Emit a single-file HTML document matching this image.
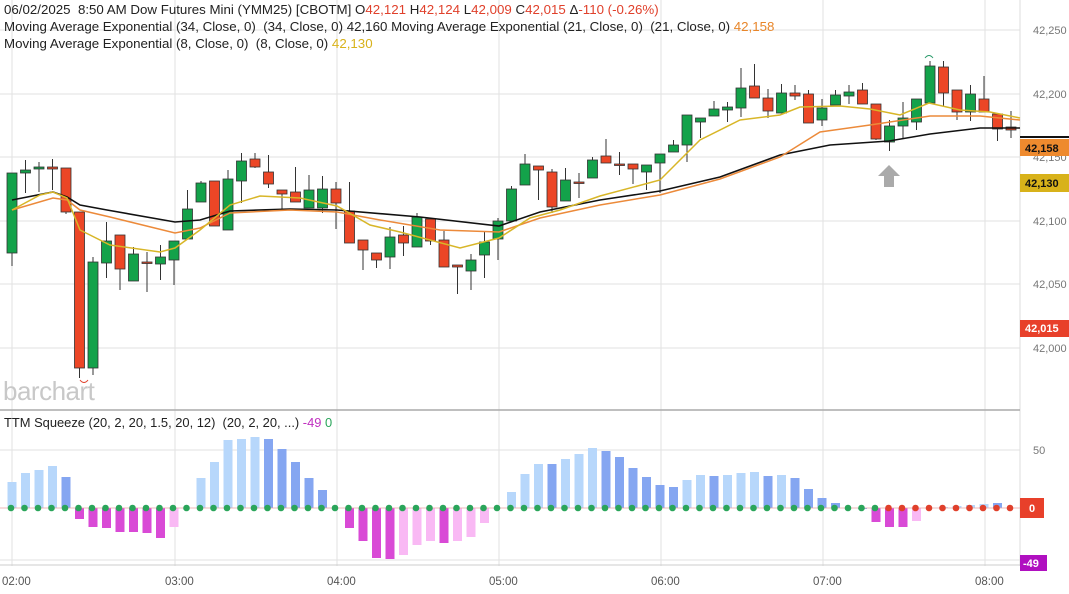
<!DOCTYPE html>
<html><head><meta charset="utf-8"><style>
html,body{margin:0;padding:0;background:#fff;width:1069px;height:594px;overflow:hidden;font-family:"Liberation Sans",sans-serif}
svg{position:absolute;left:0;top:0}
.hd{position:absolute;left:4px;font-size:13.3px;color:#222;white-space:nowrap}
.r{color:#e0402b}.y{color:#d8b21a}
</style></head><body>
<svg id="s" width="1069" height="594" xmlns="http://www.w3.org/2000/svg"></svg>
<div class="hd" style="top:2px">06/02/2025&nbsp; 8:50 AM Dow Futures Mini (YMM25) [CBOTM] O<span class="r">42,121</span> H<span class="r">42,124</span> L<span class="r">42,009</span> C<span class="r">42,015</span> Δ<span class="r">-110 (-0.26%)</span></div>
<div class="hd" style="top:19px">Moving Average Exponential (34, Close, 0)&nbsp; (34, Close, 0) 42,160 Moving Average Exponential (21, Close, 0)&nbsp; (21, Close, 0) <span style="color:#e8862a">42,158</span></div>
<div class="hd" style="top:36px">Moving Average Exponential (8, Close, 0)&nbsp; (8, Close, 0) <span class="y">42,130</span></div>
<div class="hd" style="top:415px;font-size:12.9px">TTM Squeeze (20, 2, 20, 1.5, 20, 12)&nbsp; (20, 2, 20, ...) <span style="color:#c030c0">-49</span> <span style="color:#2aa55a">0</span></div>
<div style="position:absolute;left:3px;top:376px;font-size:26px;color:#c8c8c8;letter-spacing:-0.5px">barchart</div>
<script>
const s=document.getElementById('s');let h='';
const vx=[12,175,337,499,661,823,985],tl=['02:00','03:00','04:00','05:00','06:00','07:00','08:00'];
vx.forEach((x,i)=>{h+=`<line x1="${x}" y1="0" x2="${x}" y2="566" stroke="#e2e2e2"/>`;h+=`<text x="${x-10}" y="585" font-size="11.5" fill="#555">${tl[i]}</text>`});
[[30,'42,250'],[94,'42,200'],[157,'42,150'],[221,'42,100'],[284,'42,050'],[348,'42,000']].forEach(([y,t])=>{h+=`<line x1="0" y1="${y}" x2="1020" y2="${y}" stroke="#e2e2e2"/><text x="1033" y="${y+4}" font-size="11" fill="#777">${t}</text>`});
h+=`<line x1="0" y1="450" x2="1020" y2="450" stroke="#e2e2e2"/><line x1="0" y1="560" x2="1020" y2="560" stroke="#e2e2e2"/><text x="1033" y="454" font-size="11" fill="#777">50</text>`;
h+=`<line x1="1020" y1="0" x2="1020" y2="566" stroke="#ddd"/><line x1="0" y1="410" x2="1020" y2="410" stroke="#aaa" stroke-width="1.5"/><line x1="0" y1="565" x2="1020" y2="565" stroke="#ccc"/>`;
const C=[[253,173,173,266],[173,170,160,193],[169,167,162,192],[167,169,159,190],[168,212,168,214],[212,368,212,378],[368,262,257,375],[263,241,222,278],[235,269,235,290],[281,254,247,281],[262,262,252,292],[264,257,245,280],[260,241,241,285],[239,209,190,239],[202,183,181,202],[181,226,181,226],[230,179,170,230],[181,161,153,203],[159,167,153,168],[172,184,155,188],[190,194,190,210],[192,202,167,202],[208,190,175,208],[208,189,176,213],[189,203,182,229],[211,243,182,243],[240,250,240,270],[253,260,253,268],[257,237,227,269],[235,243,226,256],[247,217,213,247],[219,241,219,245],[240,267,231,267],[265,267,265,294],[271,260,254,290],[255,242,232,278],[239,221,218,260],[221,189,186,221],[185,164,154,185],[166,170,166,200],[172,207,169,213],[201,180,168,201],[182,182,173,198],[178,160,157,178],[156,163,139,163],[164,164,152,175],[164,169,164,184],[172,165,165,190],[163,154,154,193],[152,145,140,152],[145,115,115,162],[122,118,118,138],[116,109,101,116],[110,107,102,122],[108,88,68,117],[86,98,64,98],[98,111,89,118],[113,93,84,113],[93,96,85,100],[94,123,90,123],[120,108,99,126],[105,95,90,105],[96,92,85,104],[90,104,83,104],[104,139,104,140],[142,126,120,151],[126,118,102,138],[122,99,99,130],[103,66,61,103],[67,93,61,106],[90,112,90,120],[112,94,85,121],[99,112,76,112],[114,129,114,141],[127,130,111,138]];
C.forEach(([o,c,hi,lo],i)=>{const x=12+13.5*i;const up=c<o;const col=up?'#13a24a':'#ec4626';const t=Math.min(o,c),b=Math.max(o,c);
h+=`<line x1="${x}" y1="${hi}" x2="${x}" y2="${lo}" stroke="#333"/><rect x="${x-5}" y="${t}" width="10" height="${Math.max(b-t,1.5)}" fill="${col}" stroke="#333" stroke-width="0.8"/>`});
const pl=(p,c,w)=>{h+=`<polyline fill="none" stroke="${c}" stroke-width="${w}" points="${p}"/>`};
pl('12,200 53,192 67,197 80,205 107,210 175,222 200,220 230,211 290,209 337,210 420,217 499,226 540,212 600,200 660,191 720,177 780,155 830,145 889,141 930,134 980,128 1020,128','#111',1.6);
pl('12,210 53,198 67,200 80,210 110,217 175,233 200,228 230,213 290,210 337,212 380,220 440,230 499,232 540,218 600,205 660,195 720,179 780,157 820,132 870,125 930,116 980,116 1020,120','#ec8a3a',1.5);
pl('12,210 40,195 53,192 67,198 80,230 110,245 160,252 175,248 200,230 230,205 260,196 300,198 337,206 370,225 400,232 460,248 499,238 530,218 560,210 600,196 660,180 700,140 740,120 780,115 800,107 840,106 870,109 900,115 929,103 960,110 990,112 1020,118','#d8b628',1.5);
h+=`<path d="M80 380 q4 5 8 0" fill="none" stroke="#e0402b"/><path d="M925 58 q4 -5 8 0" fill="none" stroke="#2a9a6a"/>`;
h+=`<polygon points="889,165 900,176 894,176 894,187 884,187 884,176 878,176" fill="#aaa"/>`;
const H=[[482,'L'],[473,'L'],[470,'L'],[466,'L'],[477,'D'],[519,'M'],[527,'M'],[528,'M'],[532,'M'],[532,'M'],[533,'M'],[538,'M'],[527,'P'],[508,'L'],[478,'L'],[462,'L'],[440,'L'],[439,'L'],[437,'L'],[439,'D'],[449,'D'],[462,'D'],[478,'D'],[490,'D'],[508,'D'],[528,'M'],[541,'M'],[558,'M'],[559,'M'],[555,'P'],[545,'P'],[541,'P'],[543,'M'],[541,'P'],[537,'P'],[523,'P'],[508,'P'],[492,'L'],[474,'L'],[464,'L'],[464,'D'],[459,'L'],[454,'L'],[448,'L'],[451,'D'],[457,'D'],[468,'D'],[477,'D'],[485,'D'],[487,'D'],[480,'L'],[475,'L'],[476,'D'],[475,'L'],[473,'L'],[472,'L'],[476,'D'],[475,'L'],[478,'D'],[489,'D'],[498,'D'],[503,'D'],[508,'D'],[509,'D'],[522,'M'],[527,'M'],[527,'M'],[521,'P'],[508,'L'],[507,'L'],[506,'L'],[505,'L'],[504,'L'],[503,'D'],[508,'D']];
const HC={L:'#b7d7fb',D:'#85a6f1',M:'#d94ad6',P:'#f9b9f4'};
H.forEach(([v,k],i)=>{const x=12+13.5*i;const t=Math.min(v,508),b=Math.max(v,508);if(b-t>0.5)h+=`<rect x="${x-4.5}" y="${t}" width="9" height="${b-t}" fill="${HC[k]}"/>`});
h+=`<line x1="0" y1="508" x2="1020" y2="508" stroke="#e8a0a0" stroke-width="0.8"/>`;
H.forEach((_,i)=>{const x=12+13.5*i-1;h+=`<circle cx="${x}" cy="508" r="3.3" fill="${i>=65?'#e0402b':'#2aa55a'}"/>`});
h+=`<line x1="1020" y1="137" x2="1069" y2="137" stroke="#111" stroke-width="2"/>`;
h+=`<rect x="1020" y="139" width="49" height="17" fill="#ee8a2e"/><text x="1025" y="152" font-size="11" font-weight="bold" fill="#111">42,158</text>`;
h+=`<rect x="1020" y="174" width="49" height="18" fill="#d8b21a"/><text x="1025" y="187" font-size="11" font-weight="bold" fill="#111">42,130</text>`;
h+=`<rect x="1020" y="320" width="49" height="17" fill="#e8402a"/><text x="1025" y="332" font-size="11" font-weight="bold" fill="#fff">42,015</text>`;
h+=`<rect x="1020" y="498" width="24" height="20" fill="#e8402a"/><text x="1029" y="512" font-size="11" font-weight="bold" fill="#fff">0</text>`;
h+=`<rect x="1020" y="555" width="27" height="16" fill="#b010c0"/><text x="1023" y="567" font-size="11" font-weight="bold" fill="#fff">-49</text>`;
s.innerHTML=h;
</script>
</body></html>
